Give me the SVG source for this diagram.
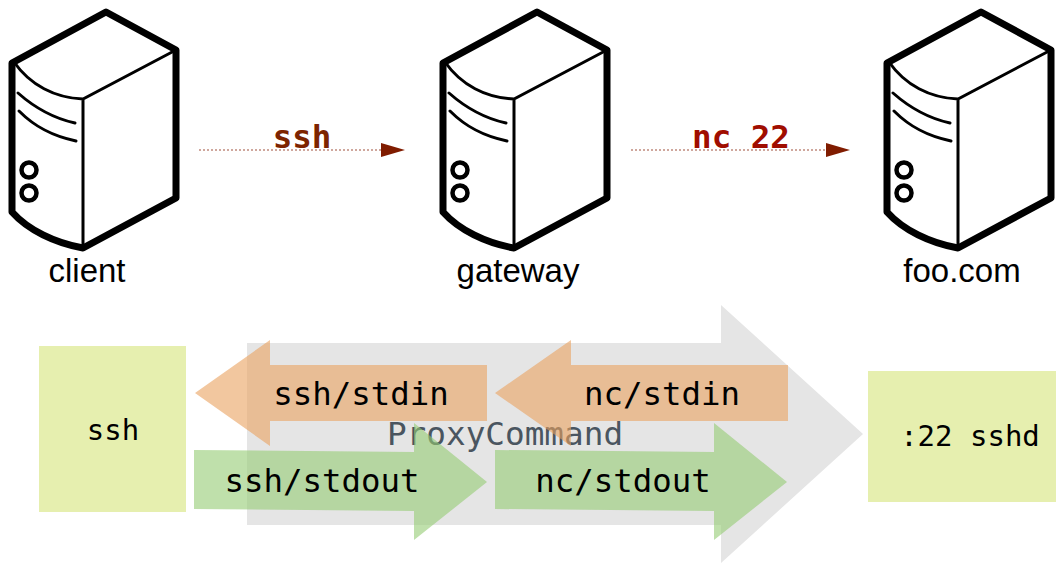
<svg xmlns="http://www.w3.org/2000/svg" width="1056" height="563" viewBox="0 0 1056 563">
<style>
.lbl{font-family:"Liberation Sans",Arial,sans-serif;font-size:33px;fill:#000;text-anchor:middle}
.red{font-family:"DejaVu Sans Mono",monospace;font-size:32.5px;font-weight:bold;text-anchor:middle}
.mono{font-family:"DejaVu Sans Mono",monospace;font-size:32.4px;fill:#000;text-anchor:middle}
.small{font-size:29px}
.thick{fill:#fff;stroke:#000;stroke-width:7;stroke-linejoin:round}
.thin{fill:none;stroke:#000;stroke-width:3;stroke-linecap:round}
.dot{stroke-width:1.2;stroke-dasharray:2 2;fill:none}
.box{fill:#e6efaf}
.or{fill:#e9a25f;fill-opacity:.6}
.gr{fill:#95cb73;fill-opacity:.6}
</style>
<defs>
<g id="server">
<path class="thick" d="M106 12L176 50V198L83 248C55 243 28 230 12 212V63Z"/>
<path class="thin" d="M14 62C30 85 55 98 83 99L174 51M83 99V247M18 93C35 108 52 118 75 123M19 111C35 127 52 136 76 141"/>
<circle cx="29" cy="170" r="7.5" fill="none" stroke="#000" stroke-width="4.5"/>
<circle cx="29" cy="193" r="7.5" fill="none" stroke="#000" stroke-width="4.5"/>
</g>
<marker id="ah1" markerUnits="userSpaceOnUse" markerWidth="24" markerHeight="16" refX="0" refY="7" orient="auto"><path d="M0 0L24 7L0 14Z" fill="#801c00"/></marker>
<marker id="ah2" markerUnits="userSpaceOnUse" markerWidth="24" markerHeight="16" refX="0" refY="7" orient="auto"><path d="M0 0L24 7L0 14Z" fill="#801c00"/></marker>
</defs>
<g id="client"><use href="#server"/><text class="lbl" x="87" y="282">client</text></g>
<g id="gateway"><use href="#server" x="431"/><text class="lbl" x="518" y="282">gateway</text></g>
<g id="foo"><use href="#server" x="875"/><text class="lbl" x="962" y="282">foo.com</text></g>
<g id="proxycommand"><path d="M247 343H721V305L863 434L721 563V525H247Z" fill="#e5e5e5"/><text x="505" y="445" text-anchor="middle" font-family="DejaVu Sans Mono,monospace" font-size="32.7" fill="#4a5560">ProxyCommand</text></g>
<g id="ssh-box"><rect class="box" x="39" y="346" width="147" height="166"/><text class="mono small" x="113" y="440">ssh</text></g>
<g id="sshd-box"><rect class="box" x="868" y="371" width="188" height="131"/><text class="mono small" x="970" y="446">:22 sshd</text></g>
<g id="connectors">
<path class="dot" d="M199 150H381" stroke="#a0503c" marker-end="url(#ah1)"/>
<path class="dot" d="M631 150H826" stroke="#a0503c" marker-end="url(#ah2)"/>
</g>
<text class="red" x="302" y="148" fill="#7d2400">ssh</text>
<text class="red" x="741" y="148" fill="#a00d00">nc 22</text>
<g id="ssh-stdin"><path class="or" d="M195 393L270 340V365H487V421H270V446Z"/><text class="mono" x="361" y="405">ssh/stdin</text></g>
<g id="nc-stdin"><path class="or" d="M495 393L571 340V365H788V421H571V446Z"/><text class="mono" x="662" y="405">nc/stdin</text></g>
<g id="ssh-stdout"><path class="gr" d="M194 450L414 452V423L487 482L414 540V511L194 509Z"/><text class="mono" x="322" y="492">ssh/stdout</text></g>
<g id="nc-stdout"><path class="gr" d="M495 450L714 452V423L787 482L714 540V511L495 509Z"/><text class="mono" x="623" y="492">nc/stdout</text></g>
</svg>
